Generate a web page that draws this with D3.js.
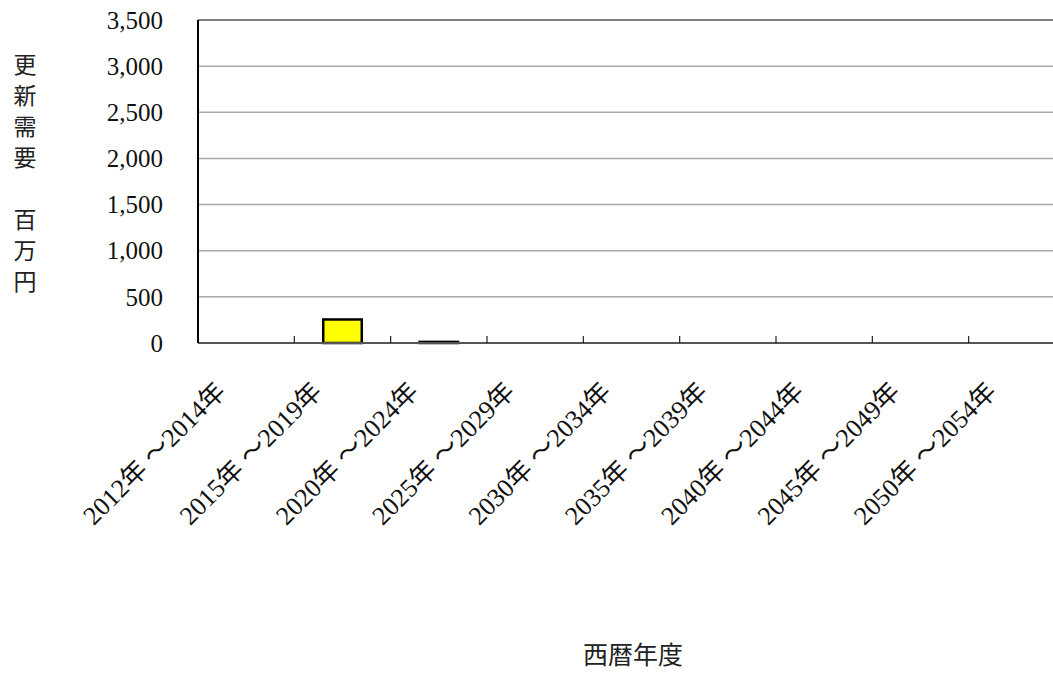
<!DOCTYPE html>
<html><head><meta charset="utf-8">
<script src="https://cdn.jsdelivr.net/npm/d3@7"></script>
<style>body{margin:0;background:#fff;} svg{display:block;}</style>
</head><body>
<svg id="c" width="1053" height="674"></svg>
<script>
const categories = ["2012年 ～2014年","2015年 ～2019年","2020年 ～2024年","2025年 ～2029年","2030年 ～2034年","2035年 ～2039年","2040年 ～2044年","2045年 ～2049年","2050年 ～2054年"];
const values = [0, 255, 12, 0, 0, 0, 0, 0, 0];
const yTicks = [0, 500, 1000, 1500, 2000, 2500, 3000, 3500];
const yTitle = "更新需要　百万円";
const xTitle = "西暦年度";

(function () {
const svg = d3.select("#c");
const mLeft = 198, mTop = 20, mBottom = 343, mRight = 1065;
const serif = "'Liberation Serif','Noto Sans CJK JP',serif";

const x = d3.scaleBand().domain(categories).range([mLeft, mRight]).paddingInner(0.6).paddingOuter(0.3);
const y = d3.scaleLinear().domain([0, 3500]).range([mBottom, mTop]);
const step = x.step();

// gridlines
svg.append("g").selectAll("line").data(yTicks.filter(d => d > 0)).join("line")
  .attr("x1", mLeft).attr("x2", mRight)
  .attr("y1", d => y(d)).attr("y2", d => y(d))
  .attr("stroke", d => d === 3500 ? "#808080" : "#a8a8a8")
  .attr("stroke-width", d => d === 3500 ? 2 : 1.5);

// y tick labels
svg.append("g").selectAll("text").data(yTicks).join("text")
  .attr("x", 163).attr("y", d => y(d)).attr("dy", "0.35em")
  .attr("text-anchor", "end")
  .attr("font-family", serif).attr("font-size", 25).attr("fill", "#111")
  .text(d => d3.format(",")(d));

// bars
svg.append("g").selectAll("rect").data(values).join("rect")
  .attr("x", (d, i) => x(categories[i]))
  .attr("width", x.bandwidth())
  .attr("y", d => y(d))
  .attr("height", d => mBottom - y(d))
  .attr("fill", "#ffff00")
  .attr("stroke", "#000").attr("stroke-width", d => d > 0 ? 2.5 : 0);

// x axis line & ticks
svg.append("line").attr("x1", mLeft).attr("x2", mRight).attr("y1", mBottom).attr("y2", mBottom)
  .attr("stroke", "#555").attr("stroke-width", 2);
svg.append("g").selectAll("line").data(categories).join("line")
  .attr("x1", (d) => x(d) - step * 0.3 + step).attr("x2", (d) => x(d) - step * 0.3 + step)
  .attr("y1", mBottom).attr("y2", mBottom - 7)
  .attr("stroke", "#222").attr("stroke-width", 1.2);
// y axis line
svg.append("line").attr("x1", mLeft).attr("x2", mLeft).attr("y1", mTop).attr("y2", mBottom)
  .attr("stroke", "#000").attr("stroke-width", 2);

// x labels
svg.append("g").selectAll("text").data(categories).join("text")
  .attr("transform", d => `translate(${x(d) + x.bandwidth() / 2 - 19},${mBottom + 50}) rotate(-45)`)
  .attr("text-anchor", "end")
  .attr("font-family", serif).attr("font-size", 26).attr("fill", "#111")
  .text(d => d);

// y title (vertical)
const chars = Array.from(yTitle);
svg.append("g").selectAll("text").data(chars).join("text")
  .attr("x", 25).attr("y", (d, i) => 65 + i * 31)
  .attr("dy", "0.35em").attr("text-anchor", "middle")
  .attr("font-family", "'Noto Sans CJK JP',sans-serif").attr("font-size", 23).attr("fill", "#222")
  .text(d => d);

// x title
svg.append("text").attr("x", 633).attr("y", 655).attr("dy", "0.35em")
  .attr("text-anchor", "middle")
  .attr("font-family", "'Noto Sans CJK JP',sans-serif").attr("font-size", 25).attr("fill", "#222")
  .text(xTitle);
})();
</script>
</body></html>
